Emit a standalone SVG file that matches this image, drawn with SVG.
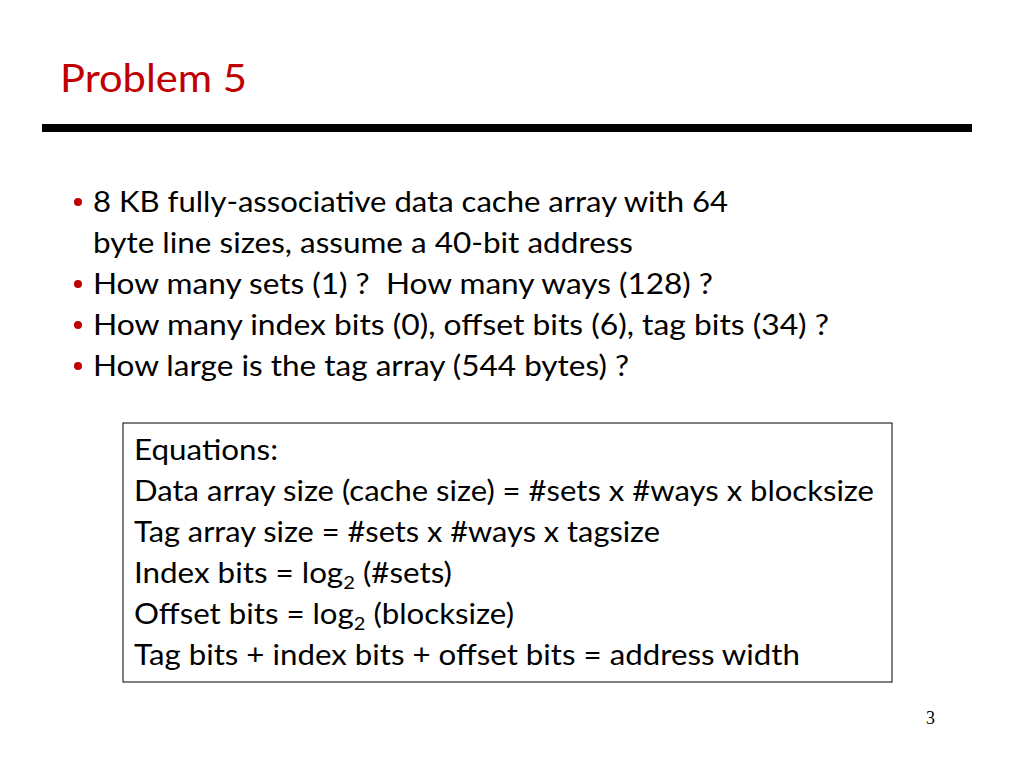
<svg xmlns="http://www.w3.org/2000/svg" width="1024" height="768" viewBox="0 0 1024 768">
<style>
text{font-family:Lato,"Open Sans","Liberation Sans",sans-serif;font-size:28px;fill:#000}
.t{font-size:38px;fill:#C00000}
.b{fill:#C00000}
.s{font-size:18px}
</style>
<rect width="1024" height="768" fill="#fff"/>
<g id="title"><text class="t" x="60" y="92" textLength="187" lengthAdjust="spacingAndGlyphs">Problem 5</text></g>
<rect x="42" y="124" width="930" height="8" fill="#000"/>
<g id="bullets">
<circle class="b" cx="78" cy="202" r="4"/>
<text x="93" y="212" textLength="635" lengthAdjust="spacingAndGlyphs">8 KB fully-associative data cache array with 64</text>
<text x="93" y="253" textLength="540" lengthAdjust="spacingAndGlyphs">byte line sizes, assume a 40-bit address</text>
<circle class="b" cx="78" cy="284" r="4"/>
<text x="93" y="294" textLength="620" lengthAdjust="spacingAndGlyphs" xml:space="preserve">How many sets (1) ?  How many ways (128) ?</text>
<circle class="b" cx="78" cy="325" r="4"/>
<text x="93" y="335" textLength="736" lengthAdjust="spacingAndGlyphs">How many index bits (0), offset bits (6), tag bits (34) ?</text>
<circle class="b" cx="78" cy="366" r="4"/>
<text x="93" y="376" textLength="536" lengthAdjust="spacingAndGlyphs">How large is the tag array (544 bytes) ?</text>
</g>
<g id="equations">
<rect x="123" y="423" width="769" height="259" fill="#fff" stroke="#000" stroke-width="1"/>
<text x="134" y="460" textLength="144" lengthAdjust="spacingAndGlyphs">Equations:</text>
<text x="134" y="501" textLength="740" lengthAdjust="spacingAndGlyphs">Data array size (cache size) = #sets x #ways x blocksize</text>
<text x="134" y="542" textLength="526" lengthAdjust="spacingAndGlyphs">Tag array size = #sets x #ways x tagsize</text>
<text x="134" y="583" textLength="318" lengthAdjust="spacingAndGlyphs">Index bits = log<tspan font-size="18" dy="6">2</tspan><tspan dy="-6"> (#sets)</tspan></text>
<text x="134" y="624" textLength="380" lengthAdjust="spacingAndGlyphs">Offset bits = log<tspan font-size="18" dy="6">2</tspan><tspan dy="-6"> (blocksize)</tspan></text>
<text x="134" y="665" textLength="666" lengthAdjust="spacingAndGlyphs">Tag bits + index bits + offset bits = address width</text>
</g>
<text class="s" x="926" y="724" style="font-family:'Liberation Serif',serif">3</text>
</svg>
